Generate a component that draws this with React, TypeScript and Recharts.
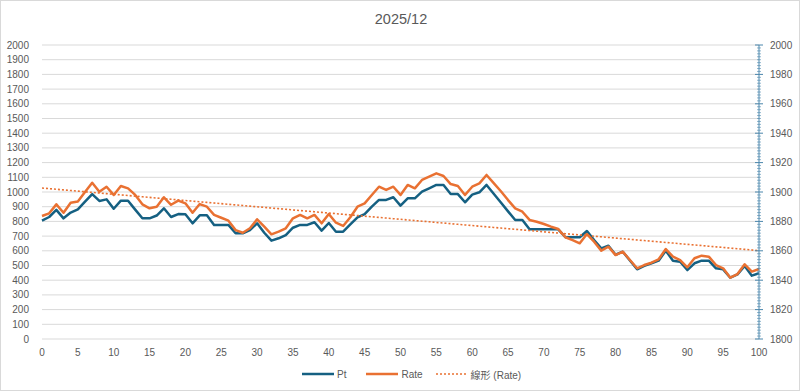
import { LineChart, Line, XAxis, YAxis, CartesianGrid } from "recharts";

// Pt (left axis), one value per x = 0..100
const PT = [
  805, 830, 878, 821, 860, 882, 935, 986, 939, 950,
  886, 941, 941, 880, 821, 821, 840, 889, 830, 850,
  848, 787, 841, 841, 776, 776, 776, 719, 719, 741,
  787, 723, 669, 685, 707, 757, 776, 776, 794, 737,
  789, 730, 730, 780, 828, 850, 900, 946, 946, 964,
  907, 957, 957, 1002, 1025, 1048, 1048, 986, 986, 930,
  982, 998, 1048, 988, 928, 868, 810, 810, 746, 746,
  746, 746, 746, 692, 692, 692, 735, 673, 617, 635,
  573, 594, 534, 474, 497, 515, 533, 601, 533, 526,
  469, 515, 533, 533, 481, 474, 417, 440, 497, 431,
  447,
];

// Rate (right axis)
const RATE = [
  1883.7, 1885.5, 1891.6, 1885.9, 1892.7, 1893.6, 1900.0, 1906.3, 1900.2, 1903.6,
  1898.0, 1904.1, 1902.5, 1898.0, 1891.6, 1888.9, 1890.0, 1896.4, 1891.3, 1894.1,
  1892.3, 1885.9, 1891.8, 1890.0, 1884.4, 1882.5, 1880.5, 1874.1, 1872.3, 1875.3,
  1881.4, 1876.4, 1871.2, 1873.0, 1875.3, 1882.1, 1884.4, 1882.1, 1884.4, 1878.7,
  1885.0, 1879.1, 1876.9, 1882.8, 1890.0, 1892.3, 1898.0, 1903.6, 1901.4, 1903.6,
  1898.0, 1904.8, 1902.5, 1908.2, 1910.4, 1912.7, 1910.9, 1905.4, 1904.1, 1898.0,
  1903.6, 1905.9, 1911.6, 1906.0, 1900.5, 1894.5, 1888.9, 1886.6, 1881.0, 1879.8,
  1878.2, 1876.4, 1874.8, 1869.2, 1867.3, 1865.1, 1871.4, 1866.2, 1860.1, 1862.8,
  1857.1, 1859.4, 1853.7, 1848.1, 1850.3, 1851.9, 1854.2, 1861.2, 1856.0, 1853.7,
  1848.8, 1854.9, 1856.7, 1856.0, 1850.3, 1848.1, 1841.7, 1844.2, 1850.8, 1845.8,
  1847.6,
];

const X_TICKS = [0, 5, 10, 15, 20, 25, 30, 35, 40, 45, 50, 55, 60, 65, 70, 75, 80, 85, 90, 95, 100];
const LEFT_TICKS = [
  0, 100, 200, 300, 400, 500, 600, 700, 800, 900, 1000,
  1100, 1200, 1300, 1400, 1500, 1600, 1700, 1800, 1900, 2000,
];
const RIGHT_MAJOR = [1800, 1820, 1840, 1860, 1880, 1900, 1920, 1940, 1960, 1980, 2000];

const PT_COLOR = "#156082";
const RATE_COLOR = "#E97132";
const AXIS_BLUE = "#4a86ac";
const TEXT = "#595959";
const GRID = "#d9d9d9";
const FONT = '"Liberation Sans", Arial, "Noto Sans CJK TC", sans-serif';

// minor ticks every 2 on the right axis
const RIGHT_TICKS: number[] = [];
for (let v = RIGHT_MAJOR[0]; v <= RIGHT_MAJOR[RIGHT_MAJOR.length - 1]; v += 2) RIGHT_TICKS.push(v);

// linear trendline of Rate (least squares)
const n = RATE.length;
const mx = (n - 1) / 2;
const my = RATE.reduce((s, v) => s + v, 0) / n;
let sxy = 0;
let sxx = 0;
RATE.forEach((v, i) => {
  sxy += (i - mx) * (v - my);
  sxx += (i - mx) * (i - mx);
});
const slope = sxy / sxx;
const icpt = my - slope * mx;

const data = PT.map((p, i) => ({
  x: i,
  pt: p,
  rate: RATE[i],
  trend: icpt + slope * i,
}));

const RIGHT_MARGIN = 11;

function RightTick(props: any) {
  const { x, y, payload } = props;
  const v = payload.value;
  const major = v % 20 === 0;
  const ax = x - RIGHT_MARGIN;
  const len = major ? 4 : 2;
  return (
    <g>
      <line
        x1={ax - len}
        x2={ax + len}
        y1={y}
        y2={y}
        stroke={AXIS_BLUE}
        strokeWidth={major ? 1 : 0.8}
        strokeOpacity={major ? 1 : 0.75}
      />
      {major && (
        <text x={x} y={y} dy={3.5} textAnchor="start" fill={TEXT} fontSize={10} fontFamily={FONT}>
          {v}
        </text>
      )}
    </g>
  );
}

function LegendLine({ color, dotted }: { color: string; dotted?: boolean }) {
  return (
    <svg width={32} height={6} style={{ display: "block" }}>
      <line
        x1={0}
        x2={32}
        y1={3}
        y2={3}
        stroke={color}
        strokeWidth={dotted ? 1.6 : 2.5}
        strokeDasharray={dotted ? "2 2" : undefined}
      />
    </svg>
  );
}

export default function App() {
  const tick = { fontSize: 10, fill: TEXT, fontFamily: FONT };
  return (
    <div
      style={{
        position: "absolute",
        left: 0,
        top: 0,
        width: 800,
        height: 391,
        boxSizing: "border-box",
        border: `1px solid ${GRID}`,
        background: "#fff",
        fontFamily: FONT,
        overflow: "hidden",
      }}
    >
      <div
        style={{
          position: "absolute",
          top: 0,
          left: 0,
          width: 800,
          height: 36,
          lineHeight: "36px",
          textAlign: "center",
          fontSize: 14.5,
          color: TEXT,
        }}
      >
        2025/12
      </div>

      <div style={{ position: "absolute", left: -1, top: -1 }}>
        <LineChart width={800} height={391} data={data} margin={{ top: 45, right: 0, bottom: 22, left: 0 }}>
          <CartesianGrid yAxisId="left" vertical={false} stroke={GRID} strokeWidth={1} />
          <XAxis
            dataKey="x"
            type="number"
            domain={[0, 100]}
            ticks={X_TICKS}
            interval={0}
            axisLine={false}
            tickLine={false}
            tickSize={0}
            tickMargin={10}
            height={30}
            tick={tick}
          />
          <YAxis
            yAxisId="left"
            domain={[0, 2000]}
            ticks={LEFT_TICKS}
            interval={0}
            axisLine={false}
            tickLine={false}
            tickSize={0}
            tickMargin={13}
            width={42}
            tick={tick}
          />
          <YAxis
            yAxisId="right"
            orientation="right"
            domain={[1800, 2000]}
            ticks={RIGHT_TICKS}
            interval={0}
            axisLine={{ stroke: AXIS_BLUE, strokeWidth: 1 }}
            tickLine={false}
            tickSize={0}
            tickMargin={RIGHT_MARGIN}
            width={41}
            tick={<RightTick />}
          />
          <Line
            yAxisId="left"
            dataKey="pt"
            stroke={PT_COLOR}
            strokeWidth={2.5}
            dot={false}
            isAnimationActive={false}
            strokeLinejoin="round"
          />
          <Line
            yAxisId="right"
            dataKey="rate"
            stroke={RATE_COLOR}
            strokeWidth={2.5}
            dot={false}
            isAnimationActive={false}
            strokeLinejoin="round"
          />
          <Line
            yAxisId="right"
            dataKey="trend"
            stroke={RATE_COLOR}
            strokeWidth={1.6}
            strokeDasharray="2 2"
            dot={false}
            isAnimationActive={false}
          />
        </LineChart>
      </div>

      <div
        style={{
          position: "absolute",
          top: 365,
          left: 301,
          height: 16,
          display: "flex",
          alignItems: "center",
          fontSize: 10,
          color: TEXT,
        }}
      >
        <LegendLine color={PT_COLOR} />
        <span style={{ marginLeft: 3, marginRight: 20 }}>Pt</span>
        <LegendLine color={RATE_COLOR} />
        <span style={{ marginLeft: 3, marginRight: 13 }}>Rate</span>
        <LegendLine color={RATE_COLOR} dotted />
        <span style={{ marginLeft: 3 }}>線形 (Rate)</span>
      </div>
    </div>
  );
}
